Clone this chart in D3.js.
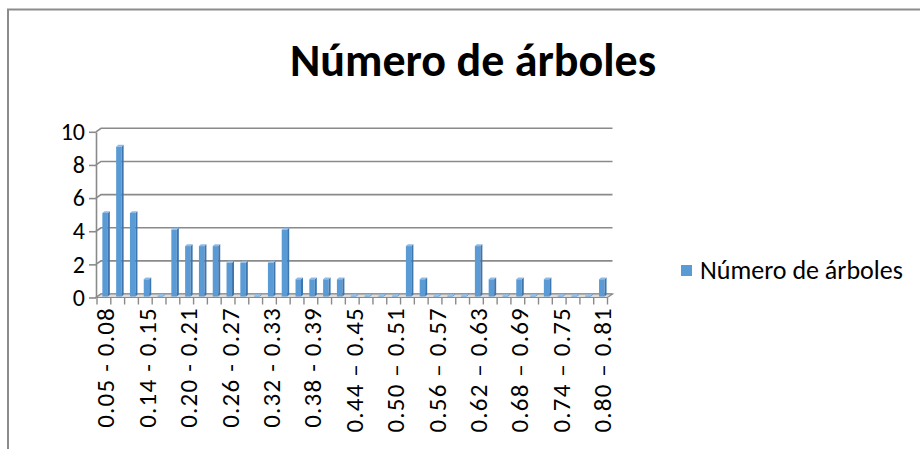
<!DOCTYPE html>
<html lang="es">
<head>
    <meta charset="UTF-8">
    <title>Número de árboles</title>
    <script src="https://d3js.org/d3.v7.min.js"></script>
    <style>
        body { margin: 0; background: #fff; }
        svg { display: block; font-family: Calibri, Carlito, Lato, sans-serif; }
    </style>
</head>
<body>
    <div id="chart"></div>

    <script>
        // Data
        var categories = [
            "0.05 - 0.08", "0.10 - 0.11", "0.12 - 0.13", "0.14 - 0.15", "0.16 - 0.17",
            "0.18 - 0.19", "0.20 - 0.21", "0.22 - 0.23", "0.24 - 0.25", "0.26 - 0.27",
            "0.28 - 0.29", "0.30 - 0.31", "0.32 - 0.33", "0.34 - 0.35", "0.36 - 0.37",
            "0.38 - 0.39", "0.40 - 0.41", "0.42 - 0.43", "0.44 – 0.45", "0.46 – 0.47",
            "0.48 – 0.49", "0.50 – 0.51", "0.52 – 0.53", "0.54 – 0.55", "0.56 – 0.57",
            "0.58 – 0.59", "0.60 – 0.61", "0.62 – 0.63", "0.64 – 0.65", "0.66 – 0.67",
            "0.68 – 0.69", "0.70 – 0.71", "0.72 – 0.73", "0.74 – 0.75", "0.76 – 0.77",
            "0.78 – 0.79", "0.80 – 0.81"
        ];
        var arboles = [5, 9, 5, 1, 0, 4, 3, 3, 3, 2, 2, 0, 2, 4, 1, 1, 1, 1, 0,
                       0, 0, 0, 3, 1, 0, 0, 0, 3, 1, 0, 1, 0, 1, 0, 0, 0, 1];
        var yTicks = [0, 2, 4, 6, 8, 10];
        var seriesName = "Número de árboles";

        var width = 920, height = 449;
        var depthX = 5, depthY = -3.5;   // fake 3D wall offset

        var svg = d3.select("#chart").append("svg")
            .attr("width", width)
            .attr("height", height);

        // outer chart border (runs off the right and bottom edges)
        svg.append("rect")
            .attr("x", 8).attr("y", 9.5)
            .attr("width", 1000).attr("height", 1000)
            .attr("fill", "none")
            .attr("stroke", "#8c8c8c")
            .attr("stroke-width", 2);

        // title
        svg.append("text")
            .attr("x", 473).attr("y", 76)
            .attr("text-anchor", "middle")
            .attr("font-size", 46)
            .attr("font-weight", "bold")
            .attr("fill", "#000")
            .text(seriesName);

        var x = d3.scaleBand()
            .domain(categories)
            .range([97, 607.5]);

        var y = d3.scaleLinear()
            .domain([0, 10])
            .range([297.5, 131.8]);

        // back wall gridlines
        var grid = svg.append("g")
            .attr("fill", "none")
            .attr("stroke", "#8a8a8a")
            .attr("stroke-width", 1.6);

        grid.selectAll("path")
            .data(yTicks)
            .enter().append("path")
            .attr("d", function(d) {
                var p = d3.path();
                p.moveTo(96, y(d));
                p.lineTo(96 + depthX, y(d) + depthY);
                p.lineTo(607.5 + depthX, y(d) + depthY);
                return p.toString();
            });

        // floor
        svg.append("path")
            .attr("d", "M96," + y(0) + "L607.5," + y(0) + "L" + (607.5 + depthX) + "," + (y(0) + depthY) +
                "L" + (96 + depthX) + "," + (y(0) + depthY) + "Z")
            .attr("fill", "#dcdcdc")
            .attr("stroke", "#8a8a8a")
            .attr("stroke-width", 1.2);

        // y axis
        var yAxis = svg.append("g")
            .attr("transform", "translate(96,0)")
            .call(d3.axisLeft(y).tickValues(yTicks).tickSize(7).tickSizeOuter(0).tickPadding(4));
        yAxis.select(".domain").attr("stroke", "#8a8a8a").attr("stroke-width", 1.6);
        yAxis.selectAll(".tick line").attr("stroke", "#8a8a8a").attr("stroke-width", 1.6);
        yAxis.selectAll(".tick text")
            .attr("font-size", 24)
            .attr("fill", "#000")
            .attr("font-family", "Calibri, Carlito, Lato, sans-serif");

        // category ticks on the boundaries
        var bounds = categories.map(function(c) { return x(c); }).concat([x.range()[1]]);
        svg.append("g")
            .attr("stroke", "#8a8a8a")
            .attr("stroke-width", 1.4)
            .selectAll("line")
            .data(bounds)
            .enter().append("line")
            .attr("x1", function(d) { return d; })
            .attr("x2", function(d) { return d; })
            .attr("y1", y(0))
            .attr("y2", y(0) + 7);

        // bars (front face, right side, top)
        var barW = 5.5, sideW = 2, sideH = 1.8;
        var bars = svg.append("g").selectAll("g")
            .data(arboles)
            .enter().append("g")
            .attr("transform", function(d, i) {
                return "translate(" + (x(categories[i]) + x.bandwidth() / 2 + 1.2 - barW / 2) + ",0)";
            });

        var base = y(0) + depthY / 2 + 0.8;
        function barTop(d) { return y(d) + depthY + sideH; }

        bars.append("rect")
            .attr("x", 0)
            .attr("width", barW)
            .attr("y", function(d) { return barTop(d); })
            .attr("height", function(d) { return Math.max(0, base - barTop(d)); })
            .attr("fill", "#5b9bd5");

        bars.append("path")
            .attr("d", function(d) {
                var t = barTop(d), b = Math.max(t, base);
                return "M" + barW + "," + t + "L" + (barW + sideW) + "," + (t - sideH) +
                    "L" + (barW + sideW) + "," + (b - sideH) + "L" + barW + "," + b + "Z";
            })
            .attr("fill", "#3f75ad");

        bars.append("path")
            .attr("d", function(d) {
                var t = barTop(d);
                return "M0," + t + "L" + sideW + "," + (t - sideH) + "L" + (barW + sideW) + "," + (t - sideH) +
                    "L" + barW + "," + t + "Z";
            })
            .attr("fill", "#8dbbe8");

        // category labels, every third one
        svg.append("g").selectAll("text")
            .data(categories.filter(function(c, i) { return i % 3 === 0; }))
            .enter().append("text")
            .attr("transform", function(d) {
                return "translate(" + (x(d) + x.bandwidth() / 2 + 1.5) + ",307) rotate(-90)";
            })
            .attr("text-anchor", "end")
            .attr("dy", "0.36em")
            .attr("font-size", 25)
            .attr("letter-spacing", 1.2)
            .attr("fill", "#000")
            .text(function(d) { return d; });

        // legend
        svg.append("rect")
            .attr("x", 681).attr("y", 265)
            .attr("width", 11).attr("height", 11)
            .attr("fill", "#5b9bd5");
        svg.append("text")
            .attr("x", 700).attr("y", 279)
            .attr("font-size", 26)
            .attr("fill", "#000")
            .text(seriesName);
    </script>
</body>
</html>
